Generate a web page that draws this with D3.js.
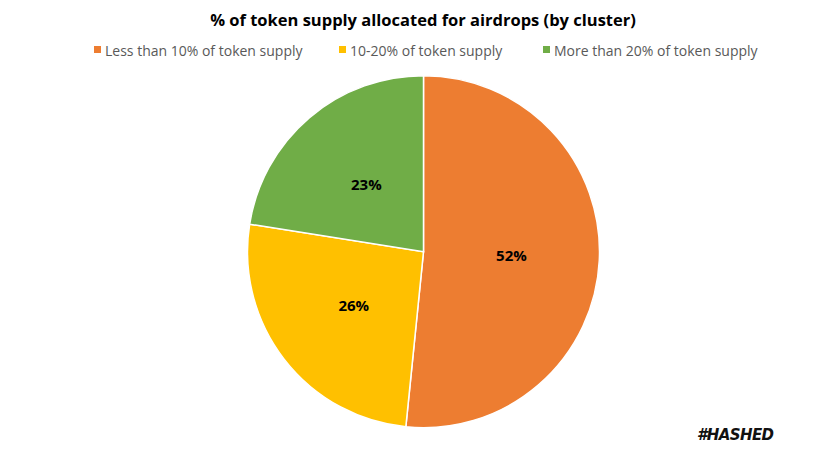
<!DOCTYPE html>
<html><head><meta charset="utf-8">
<script src="https://cdn.jsdelivr.net/npm/d3@7"></script>
<style>body{margin:0;background:#fff}svg{display:block}</style>
</head><body>
<svg id="c" width="834" height="455"></svg>
<script>
const categories = ["Less than 10% of token supply", "10-20% of token supply", "More than 20% of token supply"];
const values = [51.6, 25.9, 22.5];
const labels = ["52%", "26%", "23%"];
const colors = ["#ED7D31", "#FFC000", "#70AD47"];

const svg = d3.select("#c");
const W = 834, H = 455;
svg.append("rect").attr("width", W).attr("height", H).attr("fill", "#fff");

svg.append("text").attr("x", 423).attr("y", 26).attr("text-anchor", "middle")
  .attr("font-family", "Open Sans, sans-serif").attr("font-weight", "bold").attr("font-size", 16.5)
  .attr("fill", "#000").text("% of token supply allocated for airdrops (by cluster)");

// legend
const legX = [94, 339, 543];
const leg = svg.append("g");
categories.forEach((c, i) => {
  leg.append("rect").attr("x", legX[i]).attr("y", 46).attr("width", 7).attr("height", 7).attr("fill", colors[i]);
  leg.append("text").attr("x", legX[i] + 11).attr("y", 55.5)
    .attr("font-family", "Open Sans, sans-serif").attr("font-size", 14).attr("fill", "#595959").text(c);
});

const cx = 423.5, cy = 251.7, r = 176;
const pie = d3.pie().sort(null).value(d => d)(values);
const arc = d3.arc().innerRadius(0).outerRadius(r);
const g = svg.append("g").attr("transform", `translate(${cx},${cy})`);
g.selectAll("path").data(pie).join("path").attr("d", arc)
  .attr("fill", (d, i) => colors[i]).attr("stroke", "#fff").attr("stroke-width", 1.5);
const lab = d3.arc().innerRadius(r * 0.5).outerRadius(r * 0.5);
g.selectAll("text").data(pie).join("text")
  .attr("transform", d => `translate(${lab.centroid(d)})`)
  .attr("text-anchor", "middle").attr("dy", "0.35em")
  .attr("font-family", "Open Sans, sans-serif").attr("font-weight", "bold").attr("font-size", 15)
  .attr("fill", "#000").text((d, i) => labels[i]);

svg.append("text").attr("x", 697).attr("y", 440)
  .attr("font-family", "DejaVu Sans, sans-serif").attr("font-weight", "bold").attr("font-style", "italic")
  .attr("font-size", 15).attr("fill", "#111").attr("letter-spacing", -0.6).text("#HASHED");
</script>
</body></html>
